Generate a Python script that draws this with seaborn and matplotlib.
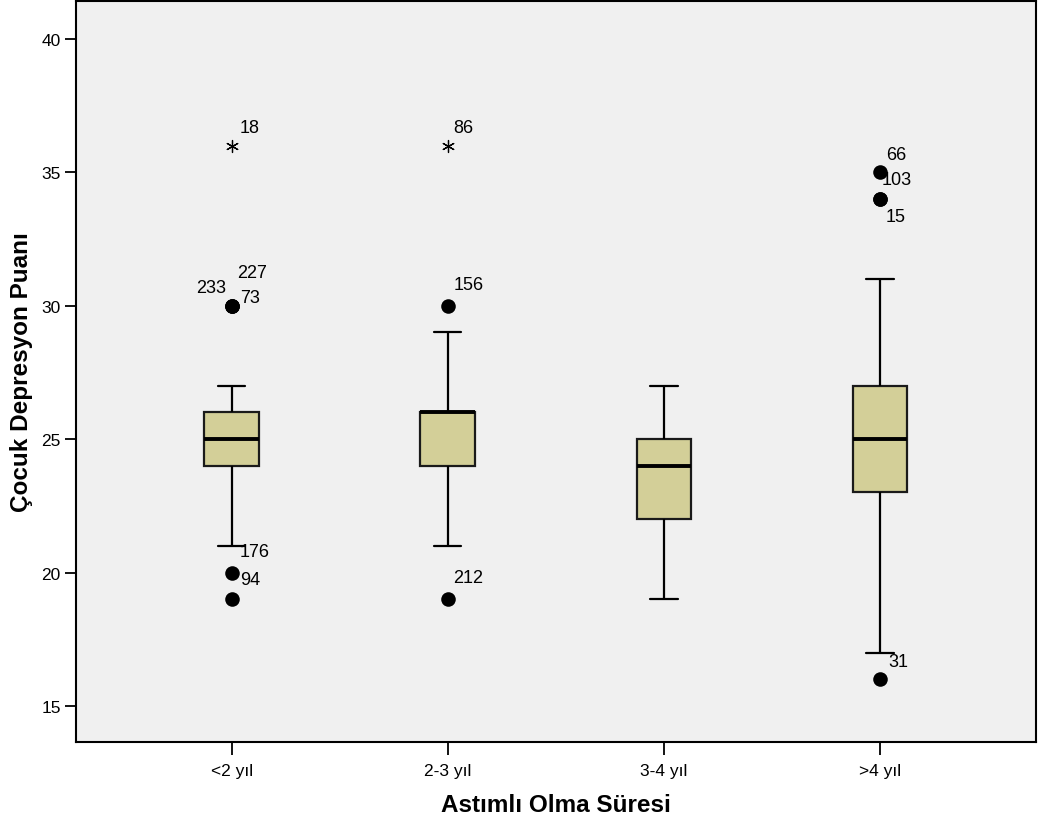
import matplotlib
matplotlib.use("Agg")
import matplotlib.pyplot as plt
import seaborn as sns
import pandas as pd

# Duration groups
groups = ["<2 yıl", "2-3 yıl", "3-4 yıl", ">4 yıl"]

# Depression scores inside the whisker range, per group
core_lt2 = [21, 23, 24, 24, 24, 24, 25, 25, 25, 25, 26, 26, 26, 26, 27]
core_2_3 = [21, 22, 23, 24, 24, 24, 25, 25, 26, 26, 26, 26, 26, 26, 26, 27, 28, 29]
core_3_4 = [19, 20, 21, 21, 22, 22, 22, 23, 23, 24, 24, 24, 24, 25, 25, 25, 25,
            26, 26, 27, 27]
core_gt4 = [17, 18, 20, 21, 22, 23, 23, 24, 24, 25, 25, 25, 25, 26, 26, 27, 27,
            27, 28, 29, 31]

# Outlying cases: group, score, case number, extreme flag
out_group = ["<2 yıl", "<2 yıl", "<2 yıl", "<2 yıl", "<2 yıl", "<2 yıl",
             "2-3 yıl", "2-3 yıl", "2-3 yıl",
             ">4 yıl", ">4 yıl", ">4 yıl", ">4 yıl"]
out_score = [36, 30, 30, 30, 20, 19,
             36, 30, 19,
             35, 34, 34, 16]
out_case = ["18", "233", "227", "73", "176", "94",
            "86", "156", "212",
            "66", "103", "15", "31"]
out_extreme = [True, False, False, False, False, False,
               True, False, False,
               False, False, False, False]

# Label placement (offset in points, horizontal alignment) per case number
label_layout = {
    "18": (6, 13, "left"), "233": (-4, 13, "right"), "227": (4, 24, "left"),
    "73": (6, 6, "left"), "176": (6, 15, "left"), "94": (6, 14, "left"),
    "86": (4, 13, "left"), "156": (4, 15, "left"), "212": (4, 16, "left"),
    "66": (4, 13, "left"), "103": (1, 14, "left"), "15": (4, -13, "left"),
    "31": (6, 13, "left"),
}

core = {"<2 yıl": core_lt2, "2-3 yıl": core_2_3, "3-4 yıl": core_3_4, ">4 yıl": core_gt4}

rows = []
for g in groups:
    rows += [{"grup": g, "puan": v} for v in core[g]]
outliers = pd.DataFrame({"grup": out_group, "puan": out_score,
                         "vaka": out_case, "uc": out_extreme})
rows += [{"grup": g, "puan": v} for g, v in zip(out_group, out_score)]
df = pd.DataFrame(rows)

sns.set_style("white")
plt.rcParams["font.family"] = ["Liberation Sans", "DejaVu Sans"]
plt.rcParams["text.color"] = "black"
plt.rcParams["axes.labelcolor"] = "black"
plt.rcParams["xtick.color"] = "black"
plt.rcParams["ytick.color"] = "black"

fig = plt.figure(figsize=(10.41, 8.29), dpi=100)
ax = fig.add_axes([0.073, 0.1037, 0.922, 0.894])
ax.set_facecolor("#f0f0f0")

sns.boxplot(data=df, x="grup", y="puan", order=groups, whis=1.5,
            showfliers=False, width=0.253, color="#d3cf98",
            linecolor="black", linewidth=1.6, saturation=1,
            medianprops={"linewidth": 2.8, "color": "black"},
            boxprops={"edgecolor": "#1a1a1a"}, ax=ax)

mild = outliers[~outliers["uc"]]
extreme = outliers[outliers["uc"]]
sns.scatterplot(data=mild, x="grup", y="puan", marker="o", s=110,
                color="black", edgecolor="black", linewidth=0, ax=ax,
                zorder=5, legend=False)
sns.scatterplot(data=extreme, x="grup", y="puan", marker=(6, 2, 0), s=75,
                color="black", linewidth=0.9, ax=ax, zorder=5, legend=False)

for _, r in outliers.iterrows():
    dx, dy, ha = label_layout[r["vaka"]]
    ax.annotate(r["vaka"], (groups.index(r["grup"]), r["puan"]),
                xytext=(dx, dy), textcoords="offset points",
                ha=ha, va="center", fontsize=13, color="black")

ax.set_xlim(-0.72, 3.72)
ax.set_ylim(13.65, 41.42)
ax.set_yticks([15, 20, 25, 30, 35, 40])
ax.tick_params(axis="y", direction="out", length=8, width=1.3,
               color="black", labelcolor="black", labelsize=12.5, pad=3, left=True)
ax.tick_params(axis="x", direction="out", length=9, width=1.3,
               color="black", labelcolor="black", labelsize=12.5, pad=6, bottom=True)
for side in ax.spines.values():
    side.set_color("black")
    side.set_linewidth(1.5)

ax.set_xlabel("Astımlı Olma Süresi", fontsize=17.5, fontweight="bold",
              labelpad=11, color="black")
ax.set_ylabel("Çocuk Depresyon Puanı", fontsize=17.5, fontweight="bold",
              labelpad=6, color="black")

fig.savefig("out.png", dpi=100)
